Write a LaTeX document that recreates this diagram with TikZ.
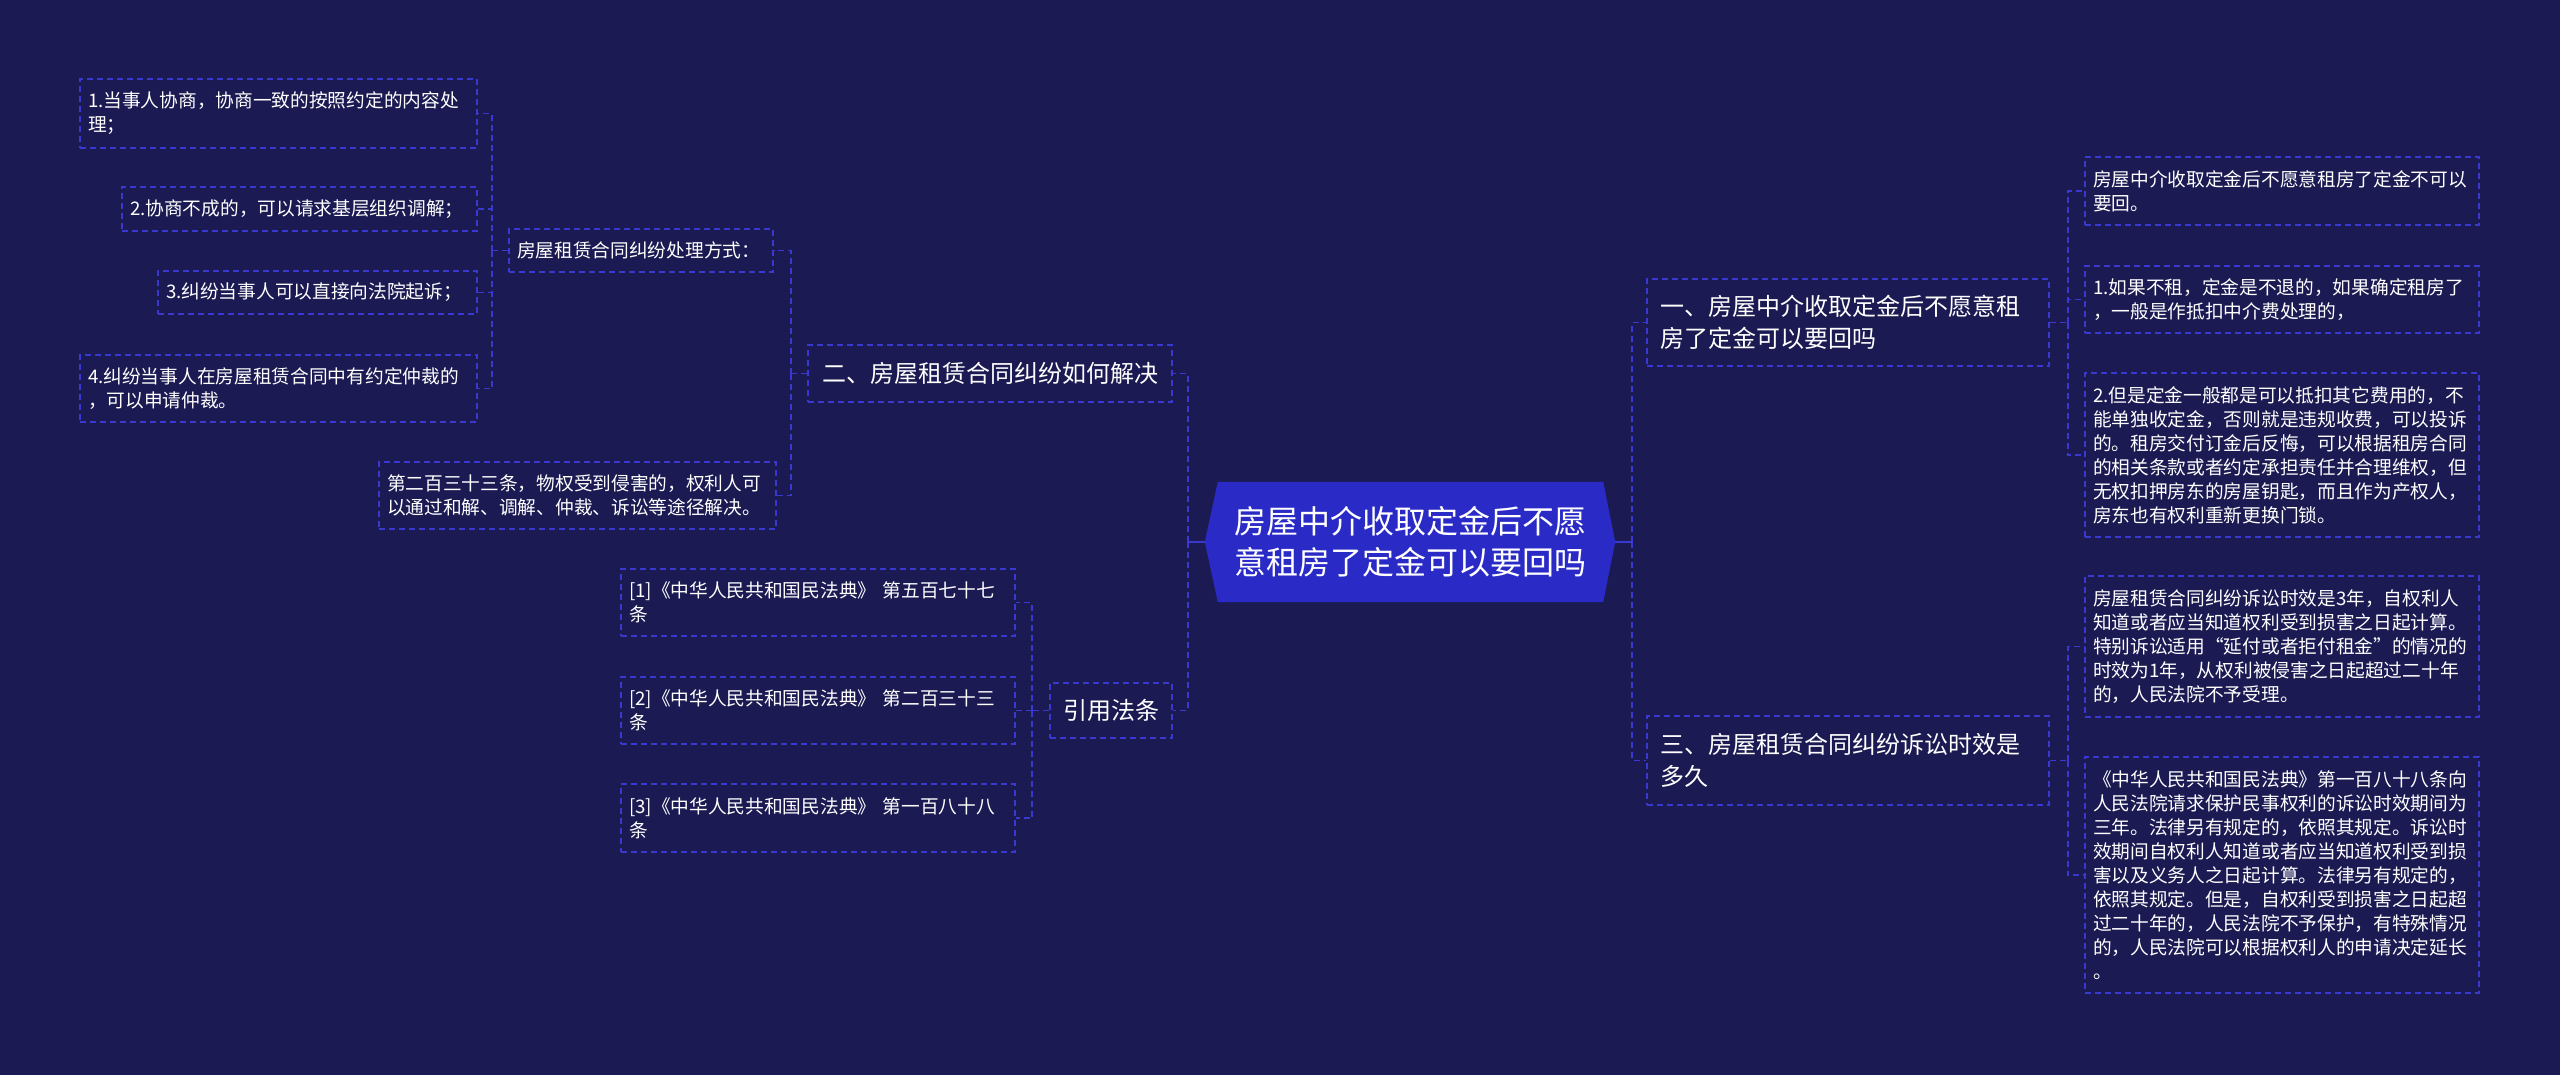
\documentclass[tikz,border=0pt]{standalone}
\usepackage{fontspec}
\newfontfamily\cjk{Noto Sans CJK SC}
\usetikzlibrary{backgrounds}
\definecolor{bgc}{HTML}{1B1A53}
\definecolor{rootc}{HTML}{2A2BC6}
\definecolor{linec}{HTML}{3939D0}
\tikzset{
  box/.style={draw=linec, line width=1.6pt, dash pattern=on 6pt off 4pt, text=white,
    font=\cjk\fontsize{18.7}{24}\selectfont, align=left, inner xsep=8pt, inner ysep=0pt,
    text width=378pt, minimum width=394pt, anchor=center},
  branch/.style={box, font=\cjk\fontsize{24}{32}\selectfont, inner xsep=13pt, text width=376pt, minimum width=402pt},
  single/.style={box, font=\cjk\fontsize{24}{32}\selectfont, align=center, text width=, inner xsep=2pt},
  conn/.style={draw=linec, line width=1.6pt, dash pattern=on 6pt off 4pt},
  rootstub/.style={draw=linec, line width=2pt},
}
\begin{document}
\begin{tikzpicture}[x=1pt,y=-1pt]
\useasboundingbox (0,0) rectangle (2560,1074);

% root
\node[text=white, font=\cjk\fontsize{32}{41}\selectfont, align=center, minimum width=410pt, minimum height=120pt, inner sep=0pt] (root) at (1410,542) {房屋中介收取定金后不愿\\意租房了定金可以要回吗};

% left side
\node[single, minimum width=364pt, minimum height=57pt] (n2) at (990,373.5) {二、房屋租赁合同纠纷如何解决};
\node[single, minimum width=122pt, minimum height=55pt] (law) at (1111,710.5) {引用法条};

\node[box, minimum height=67pt] (c1) at (818,602.5) {[1]《中华人民共和国民法典》 第五百七十七\\条};
\node[box, minimum height=67pt] (c2) at (818,710.5) {[2]《中华人民共和国民法典》 第二百三十三\\条};
\node[box, minimum height=68pt] (c3) at (818,818) {[3]《中华人民共和国民法典》 第一百八十八\\条};

\node[box, text width=248pt, minimum width=264pt, minimum height=43pt] (proc) at (641,250.5) {房屋租赁合同纠纷处理方式：};
\node[box, text width=381pt, minimum width=397pt, minimum height=67pt] (art) at (577.5,495.5) {第二百三十三条，物权受到侵害的，权利人可\\以通过和解、调解、仲裁、诉讼等途径解决。};

\node[box, text width=381pt, minimum width=397pt, minimum height=69pt] (p1) at (278.5,113.5) {1.当事人协商，协商一致的按照约定的内容处\\理；};
\node[box, text width=339pt, minimum width=355pt, minimum height=44pt] (p2) at (299.5,209) {2.协商不成的，可以请求基层组织调解；};
\node[box, text width=303pt, minimum width=319pt, minimum height=43pt] (p3) at (317.5,292.5) {3.纠纷当事人可以直接向法院起诉；};
\node[box, text width=381pt, minimum width=397pt, minimum height=67pt] (p4) at (278.5,388.5) {4.纠纷当事人在房屋租赁合同中有约定仲裁的\\，可以申请仲裁。};

% right side
\node[branch, minimum height=87pt] (b1) at (1848,322.5) {一、房屋中介收取定金后不愿意租\\房了定金可以要回吗};
\node[branch, minimum height=89pt] (b3) at (1848,760.5) {三、房屋租赁合同纠纷诉讼时效是\\多久};

\node[box, minimum height=68pt] (r1) at (2282,191) {房屋中介收取定金后不愿意租房了定金不可以\\要回。};
\node[box, minimum height=67pt] (r2) at (2282,299.5) {1.如果不租，定金是不退的，如果确定租房了\\，一般是作抵扣中介费处理的，};
\node[box, minimum height=164pt] (r3) at (2282,455) {2.但是定金一般都是可以抵扣其它费用的，不\\能单独收定金，否则就是违规收费，可以投诉\\的。租房交付订金后反悔，可以根据租房合同\\的相关条款或者约定承担责任并合理维权，但\\无权扣押房东的房屋钥匙，而且作为产权人，\\房东也有权利重新更换门锁。};
\node[box, minimum height=141pt] (r4) at (2282,646.5) {房屋租赁合同纠纷诉讼时效是3年，自权利人\\知道或者应当知道权利受到损害之日起计算。\\特别诉讼适用“延付或者拒付租金”的情况的\\时效为1年，从权利被侵害之日起超过二十年\\的，人民法院不予受理。};
\node[box, minimum height=236pt] (r5) at (2282,875) {《中华人民共和国民法典》第一百八十八条向\\人民法院请求保护民事权利的诉讼时效期间为\\三年。法律另有规定的，依照其规定。诉讼时\\效期间自权利人知道或者应当知道权利受到损\\害以及义务人之日起计算。法律另有规定的，\\依照其规定。但是，自权利受到损害之日起超\\过二十年的，人民法院不予保护，有特殊情况\\的，人民法院可以根据权利人的申请决定延长\\。};

% background and root shape
\begin{scope}[on background layer]
\fill[bgc] (-10,-10) rectangle (2570,1084);
\fill[rootc] (root.west) -- ([xshift=13pt]root.north west) -- ([xshift=-12pt]root.north east) -- (root.east) -- ([xshift=-12pt]root.south east) -- ([xshift=13pt]root.south west) -- cycle;
\end{scope}

% connectors
\draw[rootstub] (root.west) -- ++(-17,0) coordinate (lbus);
\draw[conn] (lbus) |- (n2.east);
\draw[conn] (lbus) |- (law.east);

\draw[conn] (law.west) -- ++(-17,0) coordinate (lawbus);
\draw[conn] (lawbus) |- (c1.east);
\draw[conn] (lawbus) |- (c2.east);
\draw[conn] (lawbus) |- (c3.east);

\draw[conn] (n2.west) -- ++(-16,0) coordinate (n2bus);
\draw[conn] (n2bus) |- (proc.east);
\draw[conn] (n2bus) |- (art.east);

\draw[conn] (proc.west) -- ++(-16,0) coordinate (procbus);
\draw[conn] (procbus) |- (p1.east);
\draw[conn] (procbus) |- (p2.east);
\draw[conn] (procbus) |- (p3.east);
\draw[conn] (procbus) |- (p4.east);

\draw[rootstub] (root.east) -- ++(17,0) coordinate (rbus);
\draw[conn] (rbus) |- (b1.west);
\draw[conn] (rbus) |- (b3.west);

\draw[conn] (b1.east) -- ++(18,0) coordinate (b1bus);
\draw[conn] (b1bus) |- (r1.west);
\draw[conn] (b1bus) |- (r2.west);
\draw[conn] (b1bus) |- (r3.west);

\draw[conn] (b3.east) -- ++(18,0) coordinate (b3bus);
\draw[conn] (b3bus) |- (r4.west);
\draw[conn] (b3bus) |- (r5.west);
\end{tikzpicture}
\end{document}
